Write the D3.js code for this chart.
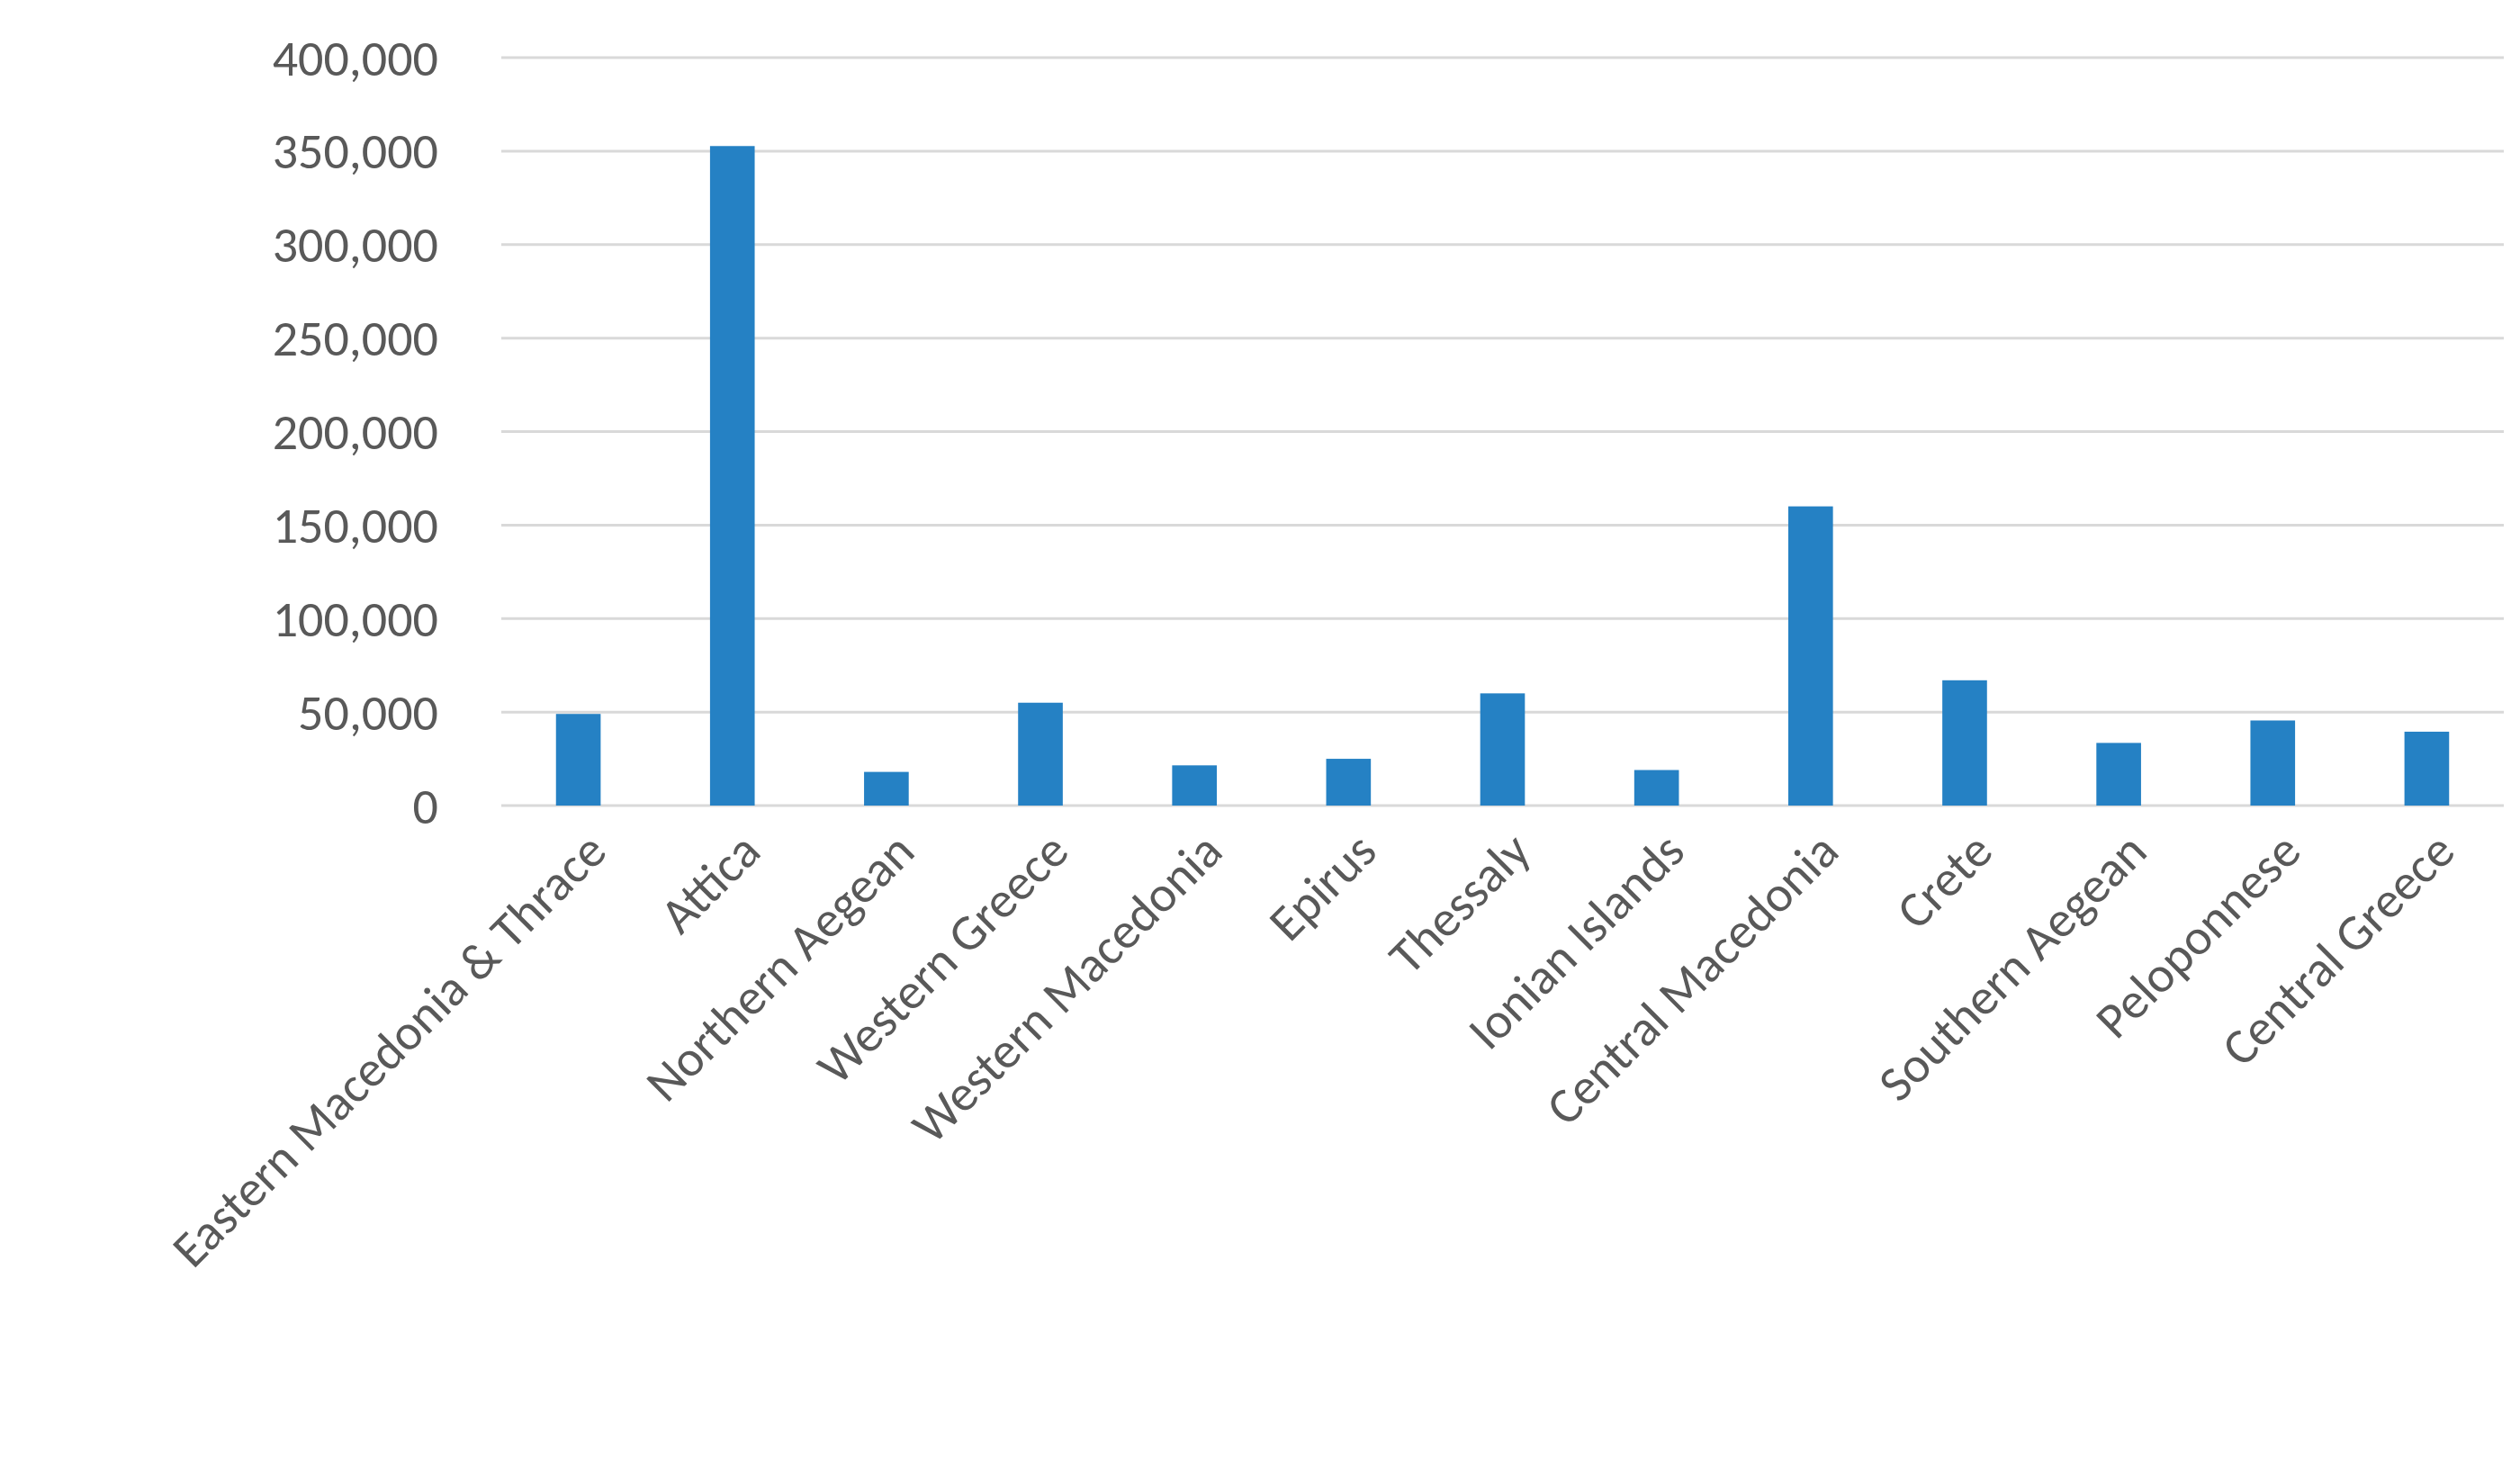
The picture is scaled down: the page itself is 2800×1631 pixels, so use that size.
<!DOCTYPE html>
<html><head><meta charset="utf-8">
<script src="https://cdn.jsdelivr.net/npm/d3@7"></script>
<style>body{margin:0;background:#fff}</style>
</head><body>
<svg id="c" width="2800" height="1631"></svg>
<script>
const regions = ['Eastern Macedonia & Thrace','Attica','Northern Aegean','Western Greece','Western Macedonia','Epirus','Thessaly','Ionian Islands','Central Macedonia','Crete','Southern Aegean','Peloponnese','Central Greece']
const values = [49000,352700,18000,55000,21500,25000,60000,19000,160000,67000,33500,45500,39500]
const ticks = [0,50000,100000,150000,200000,250000,300000,350000,400000]

const svg = d3.select('#c')
const mLeft = 557, mRight = 2782, mTop = 64, mBottom = 895
const font = 'Calibri, Carlito, "Open Sans", sans-serif'

const x = d3.scaleBand().domain(regions).range([mLeft, mRight]).paddingInner(0.71).paddingOuter(0.355)
const y = d3.scaleLinear().domain([0, 400000]).range([mBottom, mTop])

// grid
svg.append('g').selectAll('line').data(ticks).enter().append('line')
  .attr('x1', mLeft).attr('x2', mRight)
  .attr('y1', d => y(d)).attr('y2', d => y(d))
  .style('stroke', '#d9d9d9').style('stroke-width', 3)

// y labels
svg.append('g').selectAll('text').data(ticks).enter().append('text')
  .attr('x', mLeft - 70).attr('y', d => y(d)).attr('dy', '0.35em')
  .attr('text-anchor', 'end')
  .style('font-family', font).style('font-size', '56px').style('fill', '#595959')
  .text(d => d3.format(',')(d))

// bars
svg.append('g').selectAll('rect').data(values).enter().append('rect')
  .attr('x', (d, i) => x(regions[i]))
  .attr('width', x.bandwidth())
  .attr('y', d => y(d))
  .attr('height', d => mBottom - y(d))
  .style('fill', '#2581c4')

// x labels
svg.append('g').selectAll('text').data(regions).enter().append('text')
  .attr('transform', d => `translate(${x(d) + x.bandwidth() / 2 + 20},${mBottom + 40}) rotate(-45)`)
  .attr('text-anchor', 'end').attr('dy', '0.35em')
  .style('font-family', font).style('font-size', '56px').style('fill', '#595959')
  .text(d => d)
</script>
</body></html>
